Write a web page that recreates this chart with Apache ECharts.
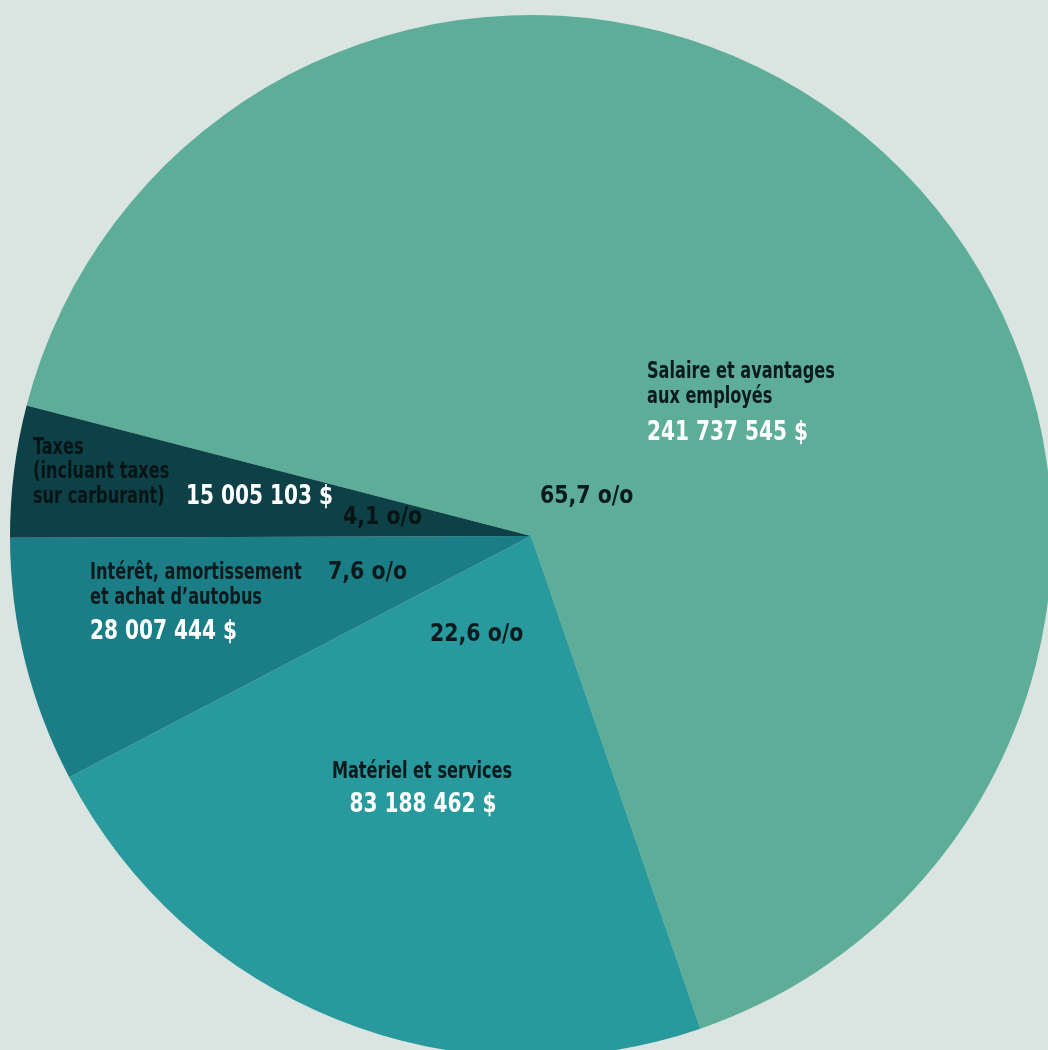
<!DOCTYPE html>
<html>
<head>
<meta charset="utf-8">
<script src="https://cdn.jsdelivr.net/npm/echarts@6/dist/echarts.min.js"></script>
<style>
  html, body { margin: 0; padding: 0; background: #dae5e1; }
  #chart { width: 1048px; height: 1050px; }
</style>
</head>
<body>
<div id="chart"></div>
<script>
// ---- data ----
const categories = [
  'Salaire et avantages aux employés',
  'Matériel et services',
  'Intérêt, amortissement et achat d\u2019autobus',
  'Taxes (incluant taxes sur carburant)'
];
const nameLines = [
  ['Salaire et avantages', 'aux employés'],
  ['Matériel et services'],
  ['Intérêt, amortissement', 'et achat d\u2019autobus'],
  ['Taxes', '(incluant taxes', 'sur carburant)']
];
const values = [241737545, 83188462, 28007444, 15005103];
const amountLabels = ['241 737 545 $', '83 188 462 $', '28 007 444 $', '15 005 103 $'];
const percentLabels = ['65,7 o/o', '22,6 o/o', '7,6 o/o', '4,1 o/o'];

// ---- styles ----
const colors = ['#5dad99', '#28999c', '#1b7e87', '#0d4047'];
const FONT = '"DejaVu Sans Condensed", "DejaVu Sans", sans-serif';
const dark = '#0b1a1c';

const chart = echarts.init(document.getElementById('chart'), null, { renderer: 'canvas' });

const LBL = { font: 'bold 23px ' + FONT, sx: 0.78 };
const NUM = { font: 'bold 26px ' + FONT, sx: 0.86, fill: '#ffffff' };
const PCT = { font: 'bold 24px ' + FONT, sx: 0.95 };

function t(x, y, s, kind, opts) {
  return {
    type: 'text', x: x, y: y, z: 100, scaleX: kind.sx,
    style: Object.assign({ text: s, fill: kind.fill || dark, font: kind.font, verticalAlign: 'middle', align: 'left' }, opts || {})
  };
}
function lines(x, y0, arr, step, opts) {
  return arr.map((s, i) => t(x, y0 + i * step, s, LBL, opts));
}

const graphics = [].concat(
  // Salaire
  lines(647, 372, nameLines[0], 25),
  [t(647, 433, amountLabels[0], NUM)],
  [t(540, 497, percentLabels[0], PCT)],
  // Taxes
  lines(33, 448, nameLines[3], 24.5, { fill: '#061416' }),
  [t(186, 497, amountLabels[3], NUM)],
  [t(343, 518, percentLabels[3], PCT, { fill: '#061416' })],
  // Intérêt
  lines(90, 573, nameLines[2], 25),
  [t(90, 632, amountLabels[2], NUM)],
  [t(328, 573, percentLabels[2], PCT)],
  // Matériel
  [t(422, 772, nameLines[1][0], LBL, { align: 'center' })],
  [t(423, 805, amountLabels[1], NUM, { align: 'center' })],
  [t(430, 635, percentLabels[1], PCT)]
);

chart.setOption({
  backgroundColor: '#dae5e1',
  animation: false,
  series: [{
    type: 'pie',
    center: [531, 536],
    radius: 521,
    startAngle: 165.5,
    clockwise: true,
    silent: true,
    z: 1,
    label: { show: false },
    labelLine: { show: false },
    itemStyle: { borderWidth: 0 },
    data: categories.map((c, i) => ({ name: c, value: values[i], itemStyle: { color: colors[i] } }))
  }],
  graphic: { elements: graphics }
});
</script>
</body>
</html>
